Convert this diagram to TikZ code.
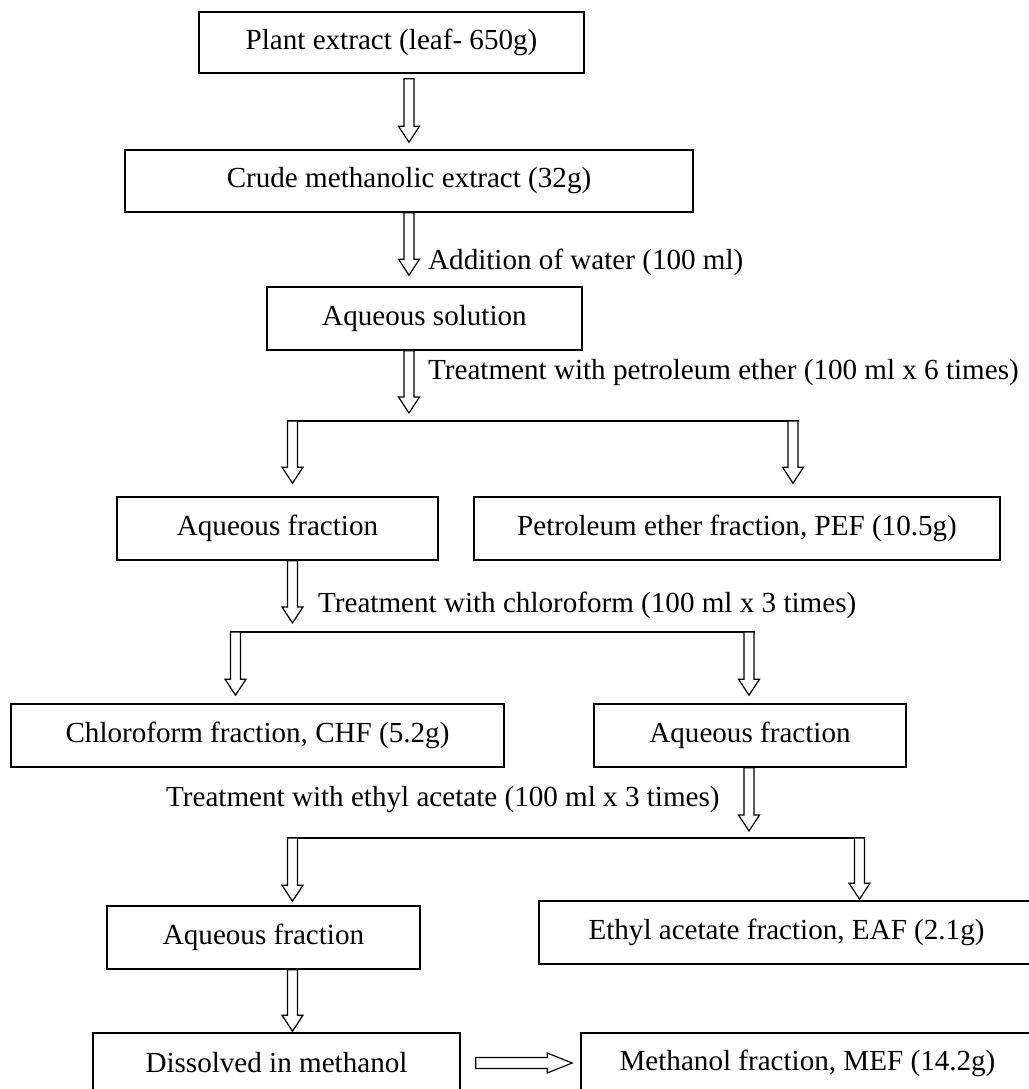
\documentclass[tikz,border=0pt]{standalone}
\usepackage{fontspec}
\setmainfont{Liberation Serif}
\usepackage{tikz}
\usetikzlibrary{positioning,calc}
\tikzset{%
	box/.style={
		rectangle,
		draw,
		line width=1.6pt,
		inner sep=0pt,
		minimum height=63pt
	},
	split/.style={ line width=1.6pt },
	note/.style={ anchor=west, inner sep=0pt },
	arrow-down/.style={
		draw,
		fill=white,
		line width=1.2pt,
		to path={let \p1=(\tikztostart), \p2=(\tikztotarget) in
			(\x1-5pt,\y1) -- (\x1-5pt,\y2+16pt) -- (\x1-10.5pt,\y2+16pt) -- (\x1,\y2)
			-- (\x1+10.5pt,\y2+16pt) -- (\x1+5pt,\y2+16pt) -- (\x1+5pt,\y1) -- cycle}
	},
	arrow-right/.style={
		draw,
		fill=white,
		line width=1.2pt,
		to path={let \p1=(\tikztostart), \p2=(\tikztotarget) in
			(\x1,\y1+5.5pt) -- (\x2-25pt,\y1+5.5pt) -- (\x2-25pt,\y1+10pt) -- (\x2,\y1)
			-- (\x2-25pt,\y1-10pt) -- (\x2-25pt,\y1-5.5pt) -- (\x1,\y1-5.5pt) -- cycle}
	},
}

\begin{document}
\begin{tikzpicture}[x=1pt, y=-1pt, font=\fontsize{29.1}{34}\selectfont]
\useasboundingbox (0,0) rectangle (1028,1089);

% boxes
\node[box, minimum width=385pt, minimum height=61pt] (plant) at (391.5,42.5) {Plant extract (leaf- 650g)};
\node[box, minimum width=568pt, minimum height=62pt] (crude) at (409,181) {Crude methanolic extract (32g)};
\node[box, minimum width=315pt] (aqsol) at (424.5,318.5) {Aqueous solution};
\node[box, minimum width=321pt] (aqf-1) at (277.5,528.5) {Aqueous fraction};
\node[box, minimum width=526pt] (pef) at (737,528.5) {Petroleum ether fraction, PEF (10.5g)};
\node[box, minimum width=493pt] (chf) at (257.5,735.5) {Chloroform fraction, CHF (5.2g)};
\node[box, minimum width=312pt] (aqf-2) at (750,735.5) {Aqueous fraction};
\node[box, minimum width=313pt] (aqf-3) at (263.5,937.5) {Aqueous fraction};
\node[box, minimum width=495pt] (eaf) at (786.5,932.5) {Ethyl acetate fraction, EAF (2.1g)};
\node[box, minimum width=367pt, minimum height=60pt] (dis) at (276.5,1063) {Dissolved in methanol};
\node[box, minimum width=453pt, minimum height=60pt] (mef) at (807.5,1063) {Methanol fraction, MEF (14.2g)};

% split points
\coordinate (pe) at (409,421);
\coordinate (pe-l) at (292.5,421);
\coordinate (pe-r) at (793,421);
\coordinate (ch) at (292.5,632);
\coordinate (ch-l) at (235.5,632);
\coordinate (ch-r) at (749,632);
\coordinate (ea) at (749,838);
\coordinate (ea-l) at (292.5,838);
\coordinate (ea-r) at (859.5,838);

% split lines
\foreach \s in {pe,ch,ea}
	\draw[split] ([xshift=-5.5pt]\s-l) -- ([xshift=5.5pt]\s-r);

% arrows
\draw[arrow-down] ($(plant.south -| crude.north)+(0,5)$) to ($(crude.north)+(0,-7)$);
\draw[arrow-down] (crude.south) to ($(crude.south |- aqsol.north)+(0,-11)$);
\draw[arrow-down] (aqsol.south -| pe) to ($(pe)+(0,-8)$);
\draw[arrow-down] (aqf-1.south -| ch) to ($(ch)+(0,-9)$);
\draw[arrow-down] (aqf-2.south -| ea) to ($(ea)+(0,-7)$);
\draw[arrow-down] (aqf-3.south -| ea-l) to ($(ea-l |- dis.north)+(0,-1)$);
\foreach \sp/\bx/\gp in {pe-l/aqf-1/13, pe-r/pef/13, ch-l/chf/8, ch-r/aqf-2/8, ea-l/aqf-3/4, ea-r/eaf/1}
	\draw[arrow-down] (\sp) to ($(\sp |- \bx.north)+(0,-\gp)$);
\draw[arrow-right] ($(dis.east)+(15,0)$) to ($(mef.west)+(-8,0)$);

% step labels
\node[note] (lab-water) at (428,262) {Addition of water (100 ml)};
\node[note] (lab-pe) at (428,372) {Treatment with petroleum ether (100 ml x 6 times)};
\node[note] (lab-ch) at (318,605) {Treatment with chloroform (100 ml x 3 times)};
\node[note] (lab-ea) at (166,800) {Treatment with ethyl acetate (100 ml x 3 times)};

\end{tikzpicture}
\end{document}
